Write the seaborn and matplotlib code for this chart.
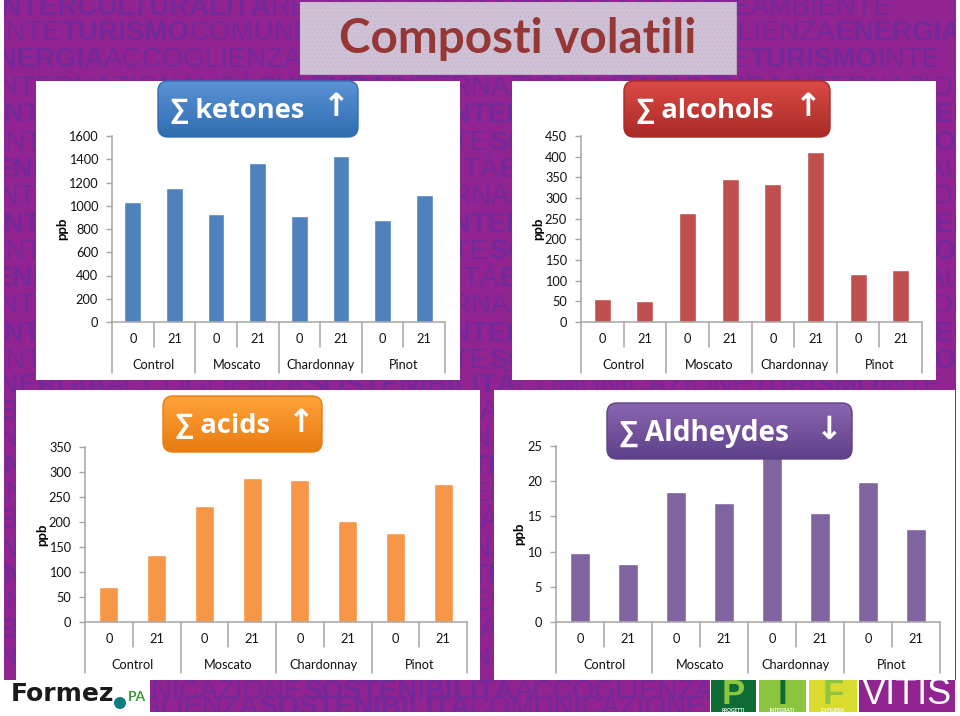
import numpy as np
import pandas as pd
import matplotlib
matplotlib.use("Agg")
import matplotlib.pyplot as plt
from matplotlib.patches import FancyBboxPatch, Rectangle, Circle
import seaborn as sns

W, H = 960, 716

times = ["0", "21"] * 4
varieties = ["Control", "Moscato", "Chardonnay", "Pinot"]
ketones = [1030, 1150, 925, 1365, 910, 1425, 880, 1090]
alcohols = [55, 50, 263, 347, 333, 412, 115, 127]
acids = [70, 135, 232, 288, 284, 202, 178, 277]
aldehydes = [9.8, 8.2, 18.4, 16.9, 24, 15.5, 19.9, 13.2]

sns.set_theme(style="white")
plt.rcParams["font.family"] = ["Lato", "DejaVu Sans"]

fig = plt.figure(figsize=(W / 100, H / 100), dpi=100, facecolor="white")


def px_axes(x0, y0, x1, y1, **kw):
    return fig.add_axes([x0 / W, 1 - y1 / H, (x1 - x0) / W, (y1 - y0) / H], **kw)


# ---------- background ----------
bg = px_axes(0, 0, W, H, zorder=0)
bg.set_xlim(0, W)
bg.set_ylim(H, 0)
bg.axis("off")
bg.add_patch(Rectangle((4, 0), 952, 712, fc="#922492", ec="none", zorder=0))

BG_TEXT = "#74299A"
rows = [
    (-6, 8, [("INTERCULTURALITÀ", 1), ("RESPONSABILITÀ", 0), ("VALORIZZAZIONE", 1), ("AMBIENTE", 0)]),
    (-12, 33, [("ENTE", 0), ("TURISMO", 1), ("COMUNICAZIONE", 0), ("SOSTENIBILITÀ", 1), ("ACCOGLIENZA", 0), ("ENERGIA", 1)]),
    (-22, 60, [("ENERGIA", 1), ("ACCOGLIENZA", 0), ("SOSTENIBILITÀ", 1), ("COMUNICAZIONE", 0), ("TURISMO", 1), ("INTE", 0)]),
]
patterns = [
    (-8, [("INTERNAZIONALITÀ", 0), ("CULTURA", 1)]),
    (-4, [("INTERCULTURALITÀ", 1), ("TERRITORIO", 0)]),
    (-12, [("ENTE", 0), ("SOSTENIBILITÀ", 1), ("AMBIENTE", 0)]),
    (-6, [("ENERGIA", 1), ("QUALITÀ", 0), ("TURISMO", 1), ("LEGALITÀ", 0)]),
]
y = 88
k = 0
while y < 380:
    off, segs = patterns[k % 4]
    rows.append((off, y, segs * 3))
    y += 27.3
    k += 1
rows.append((-20, 386, [("ENERGIA", 1), ("ACCOGLIENZA", 0), ("SOSTENIBILITÀ", 1), ("COMUNICAZIONE", 0), ("TURISMO", 1), ("INTE", 0)]))
y = 412
while y < 680:
    off, segs = patterns[k % 4]
    rows.append((off, y, segs * 3))
    y += 27.3
    k += 1
rows.append((-60, 692, [("TURISMO", 1), ("COMUNICAZIONE", 0), ("SOSTENIBILITÀ", 1), ("ACCOGLIENZA", 0), ("ENERGIA", 1), ("TURISMO", 0)]))
rows.append((60, 708, [("ACCOGLIENZA", 0), ("SOSTENIBILITÀ", 1), ("COMUNICAZIONE", 0), ("TURISMO", 1), ("ENERGIA", 0)]))

for x0, y0, segs in rows:
    prev = None
    for s, b in segs:
        kw = dict(color=BG_TEXT, fontsize=20, family="Liberation Sans",
                  fontweight="bold" if b else "normal", zorder=1, annotation_clip=False)
        if prev is None:
            prev = bg.annotate(s, xy=(x0, y0), xycoords="data", va="center", ha="left", **kw)
        else:
            prev = bg.annotate(s, xy=(1, 0), xycoords=prev, va="bottom", ha="left", **kw)

# white margins and panels
for (x, yy, w, h) in [(0, 0, 4, H), (956, 0, 4, H), (0, 712, W, 4),
                      (36, 81, 424, 299), (512, 81, 424, 299),
                      (16, 390, 464, 290), (494, 390, 461, 290),
                      (0, 680, 150, 36), (710, 680, 250, 36)]:
    bg.add_patch(Rectangle((x, yy), w, h, fc="white", ec="none", zorder=5))

# title box
bg.add_patch(Rectangle((300, 2), 436, 72, fc="#CFC2D6", ec="#B9A6C4", lw=0.8, hatch="....", zorder=5))
bg.add_patch(Rectangle((300, 2), 436, 72, fc="#CFC2D6", ec="none", alpha=0.7, zorder=5.1))
bg.text(518, 39, "Composti volatili", color="#953735", fontsize=34.3, fontweight="bold",
        family="Lato", ha="center", va="center", zorder=6)


# ---------- charts ----------
def panel(box, values, color, ymax, step, ylabel_x):
    x0, y0, x1, y1 = box
    ax = px_axes(x0, y0, x1, y1, zorder=2)
    ax.patch.set_alpha(0)
    df = pd.DataFrame({"slot": [f"{v}-{t}" for v in varieties for t in ("0", "21")], "value": values})
    sns.barplot(data=df, x="slot", y="value", color=color, width=0.4, saturation=1, ax=ax)
    ax.set_xlim(-0.5, 7.5)
    ax.set_ylim(0, ymax)
    ax.set_yticks(np.arange(0, ymax + step, step))
    ax.tick_params(axis="y", length=4, width=1, color="#A6A6A6", labelsize=9.2, labelcolor="#111111", pad=6, left=True)
    ax.set_ylabel("ppb", fontsize=9.5, fontweight="bold", color="black")
    ax.yaxis.set_label_coords((ylabel_x + 6 - x0) / (x1 - x0), 0.5)
    ax.set_xlabel("")
    ax.set_xticks([])
    for s in ("top", "right"):
        ax.spines[s].set_visible(False)
    for s in ("left", "bottom"):
        ax.spines[s].set_color("#A6A6A6")
        ax.spines[s].set_linewidth(1.1)
    tr = ax.get_xaxis_transform()
    h = y1 - y0
    d1 = 25 / h
    d2 = 51 / h
    for i in range(9):
        long = i % 2 == 0
        ax.plot([i - 0.5] * 2, [0, -(d2 if long else d1)], transform=tr, clip_on=False,
                color="#A6A6A6", lw=1.1, zorder=3)
    for i, t in enumerate(times):
        ax.text(i, -17 / h, t, transform=tr, ha="center", va="center", fontsize=9.2, color="#111111")
    for i, v in enumerate(varieties):
        ax.text(2 * i + 0.5, -43 / h, v, transform=tr, ha="center", va="center", fontsize=9.2, color="#111111")
    return ax


panel((112, 136, 445, 322), ketones, "#4F81BD", 1600, 200, 62)
panel((581, 136, 922, 322), alcohols, "#C0504D", 450, 50, 538)
panel((85, 447, 467, 622), acids, "#F79646", 350, 50, 42)
panel((556, 446, 940, 622), aldehydes, "#8064A2", 25, 5, 519)

# ---------- buttons ----------
top = px_axes(0, 0, W, H, zorder=8)
top.set_xlim(0, W)
top.set_ylim(H, 0)
top.axis("off")
top.patch.set_alpha(0)


def button(x0, y0, x1, y1, c_top, c_bot, label, arrow, arrow_x, fs):
    r = 10
    patch = FancyBboxPatch((x0 + r, y0 + r), x1 - x0 - 2 * r, y1 - y0 - 2 * r,
                           boxstyle=f"round,pad={r},rounding_size={r}", fc="none", ec=c_bot, lw=1, zorder=3)
    top.add_patch(patch)
    t = np.linspace(0, 1, 64)[:, None]
    a = np.array(matplotlib.colors.to_rgb(c_top))
    b = np.array(matplotlib.colors.to_rgb(c_bot))
    grad = (a * (1 - t) + b * t)[:, None, :]
    im = top.imshow(grad, extent=(x0, x1, y1, y0), aspect="auto", zorder=2)
    im.set_clip_path(patch)
    top.set_xlim(0, W)
    top.set_ylim(H, 0)
    top.text(x0 + 13, (y0 + y1) / 2 + 2, label, color="white", fontsize=fs, fontweight="bold", family="Open Sans",
             ha="left", va="center", zorder=4)
    top.text(arrow_x, (y0 + y1) / 2 - 1, arrow, color="white", fontsize=23, fontweight="bold", family="DejaVu Sans",
             ha="center", va="center", zorder=4)


button(158, 81, 358, 137, "#5A93D6", "#2F6DB0", "∑ ketones", "↑", 336, 19.6)
button(624, 81, 830, 137, "#DB4A44", "#A92B27", "∑ alcohols", "↑", 808, 19.6)
button(163, 396, 322, 452, "#FFA23A", "#E87C10", "∑ acids", "↑", 301, 19.6)
button(607, 403, 852, 459, "#8B66B0", "#5E4089", "∑ Aldheydes", "↓", 829, 20.2)

# ---------- logos ----------
top.text(11, 694, "Formez", color="#1A1A1A", fontsize=18, fontweight="bold", family="DejaVu Sans",
         ha="left", va="center", zorder=4)
top.add_patch(Circle((120, 703), 6, fc="#0F7C80", ec="none", zorder=4))
top.text(128, 697, "PA", color="#3A9A3A", fontsize=10, fontweight="bold", ha="left", va="center", zorder=4)

top.add_patch(Rectangle((711, 680), 45, 32, fc="#0E6B33", ec="none", zorder=3))
top.add_patch(Rectangle((759, 680), 47, 32, fc="#8CC63F", ec="none", zorder=3))
top.add_patch(Rectangle((809, 680), 48, 32, fc="#D9DC2F", ec="none", zorder=3))
top.add_patch(Rectangle((859, 680), 96, 32, fc="#922492", ec="none", zorder=3))
top.text(733, 695, "P", color="#8CC63F", fontsize=25, fontweight="bold", family="Liberation Sans", ha="center", va="center", zorder=4)
top.text(782, 695, "I", color="#0E6B33", fontsize=25, fontweight="bold", family="Liberation Sans", ha="center", va="center", zorder=4)
top.text(833, 695, "F", color="#8CC63F", fontsize=25, fontweight="bold", family="Liberation Sans", ha="center", va="center", zorder=4)
for cx, s in [(733, "PROGETTI"), (782, "INTEGRATI"), (833, "DI FILIERA")]:
    top.text(cx, 710, s, color="white", fontsize=3.5, fontweight="bold", ha="center", va="center", zorder=4)
top.text(907, 695, "VITIS", color="white", fontsize=26, family="Liberation Sans", ha="center", va="center", zorder=4)

fig.savefig("out.png", dpi=100, facecolor="white")
